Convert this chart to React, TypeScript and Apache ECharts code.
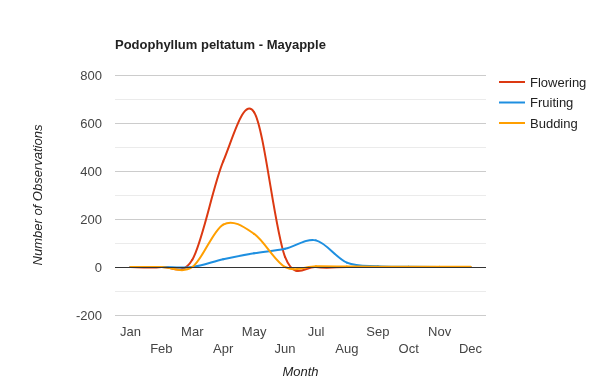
import React, { useEffect, useRef } from "react";
import * as echarts from "echarts";

const months = ["Jan", "Feb", "Mar", "Apr", "May", "Jun", "Jul", "Aug", "Sep", "Oct", "Nov", "Dec"];
const flowering = [0, 0, 30, 440, 645, 42, 0, 0, 0, 0, 0, 0];
const fruiting = [0, 0, 0, 32, 57, 76, 111, 18, 3, 1, 0, 0];
const budding = [0, 0, 0, 177, 138, 0, 3, 2, 1, 1, 1, 1];
const yTicks = { min: -200, max: 800, interval: 200 };

const FONT = 'Arial, "Liberation Sans", sans-serif';
const TENSION = 1 / 6;

function curveSeries(name: string, values: number[], color: string, extra: any = {}) {
  const n = values.length;
  return {
    name,
    type: "custom",
    coordinateSystem: "cartesian2d",
    data: values.map((v, i) => [i, v]),
    encode: { x: 0, y: 1 },
    itemStyle: { color },
    silent: true,
    renderItem: (params: any, api: any) => {
      const i = params.dataIndex;
      if (i >= n - 1) return null;
      const idx = [i - 1, i, i + 1, i + 2].map((k) => Math.max(0, Math.min(n - 1, k)));
      const p = idx.map((k) => api.coord([k, values[k]]));
      const [p0, p1, p2, p3] = p;
      const cp1 = [p1[0] + (p2[0] - p0[0]) * TENSION, p1[1] + (p2[1] - p0[1]) * TENSION];
      const cp2 = [p2[0] - (p3[0] - p1[0]) * TENSION, p2[1] - (p3[1] - p1[1]) * TENSION];
      return {
        type: "bezierCurve",
        shape: {
          x1: p1[0], y1: p1[1],
          cpx1: cp1[0], cpy1: cp1[1],
          cpx2: cp2[0], cpy2: cp2[1],
          x2: p2[0], y2: p2[1],
        },
        style: { stroke: color, lineWidth: 2, fill: null, lineCap: "round" },
      };
    },
    ...extra,
  };
}

export default function App() {
  const ref = useRef<HTMLDivElement>(null);
  useEffect(() => {
    if (!ref.current) return;
    const chart = echarts.init(ref.current, null, { renderer: "svg" });
    chart.setOption({
      animation: false,
      textStyle: { fontFamily: FONT },
      title: {
        text: "Podophyllum peltatum - Mayapple",
        left: 115,
        top: 38,
        padding: 0,
        textStyle: { fontSize: 13, fontWeight: "bold", color: "#222", fontFamily: FONT },
      },
      legend: {
        orient: "vertical",
        left: 499,
        top: 75,
        padding: 0,
        itemWidth: 26,
        itemHeight: 2,
        itemGap: 6.5,
        icon: "rect",
        textStyle: { fontSize: 13, color: "#222", lineHeight: 14, fontFamily: FONT },
        data: ["Flowering", "Fruiting", "Budding"],
      },
      grid: { left: 115, right: 114, top: 75, bottom: 75, containLabel: false },
      xAxis: {
        type: "category",
        data: months,
        boundaryGap: true,
        name: "Month",
        nameLocation: "middle",
        nameGap: 50,
        nameTextStyle: { fontSize: 13, fontStyle: "italic", color: "#222", fontFamily: FONT },
        axisLine: { show: false },
        axisTick: { show: false },
        axisLabel: {
          interval: 0,
          fontSize: 13,
          color: "#444",
          margin: 8,
          lineHeight: 17,
          fontFamily: FONT,
          formatter: (v: string, i: number) => (i % 2 === 1 ? "\n" + v : v),
        },
      },
      yAxis: {
        type: "value",
        min: yTicks.min,
        max: yTicks.max,
        interval: yTicks.interval,
        name: "Number of Observations",
        nameLocation: "middle",
        nameGap: 71,
        nameTextStyle: { fontSize: 13, fontStyle: "italic", color: "#222", fontFamily: FONT },
        axisLine: { show: false },
        axisTick: { show: false },
        axisLabel: { fontSize: 13, color: "#444", margin: 13, fontFamily: FONT },
        splitLine: { show: true, lineStyle: { color: "#cccccc", width: 1 } },
        minorTick: { show: false, splitNumber: 2 },
        minorSplitLine: { show: true, lineStyle: { color: "#ebebeb", width: 1 } },
      },
      series: [
        {
          name: "zero",
          type: "line",
          data: [],
          silent: true,
          z: 1,
          markLine: {
            silent: true,
            symbol: "none",
            label: { show: false },
            lineStyle: { color: "#333", width: 1, type: "solid" },
            data: [{ yAxis: 0 }],
          },
        },
        curveSeries("Flowering", flowering, "#dc3912"),
        curveSeries("Fruiting", fruiting, "#1e8fe0"),
        curveSeries("Budding", budding, "#ff9f00"),
      ],
    });
    return () => chart.dispose();
  }, []);
  return <div ref={ref} style={{ position: "fixed", left: 0, top: 0, width: 600, height: 390 }} />;
}
